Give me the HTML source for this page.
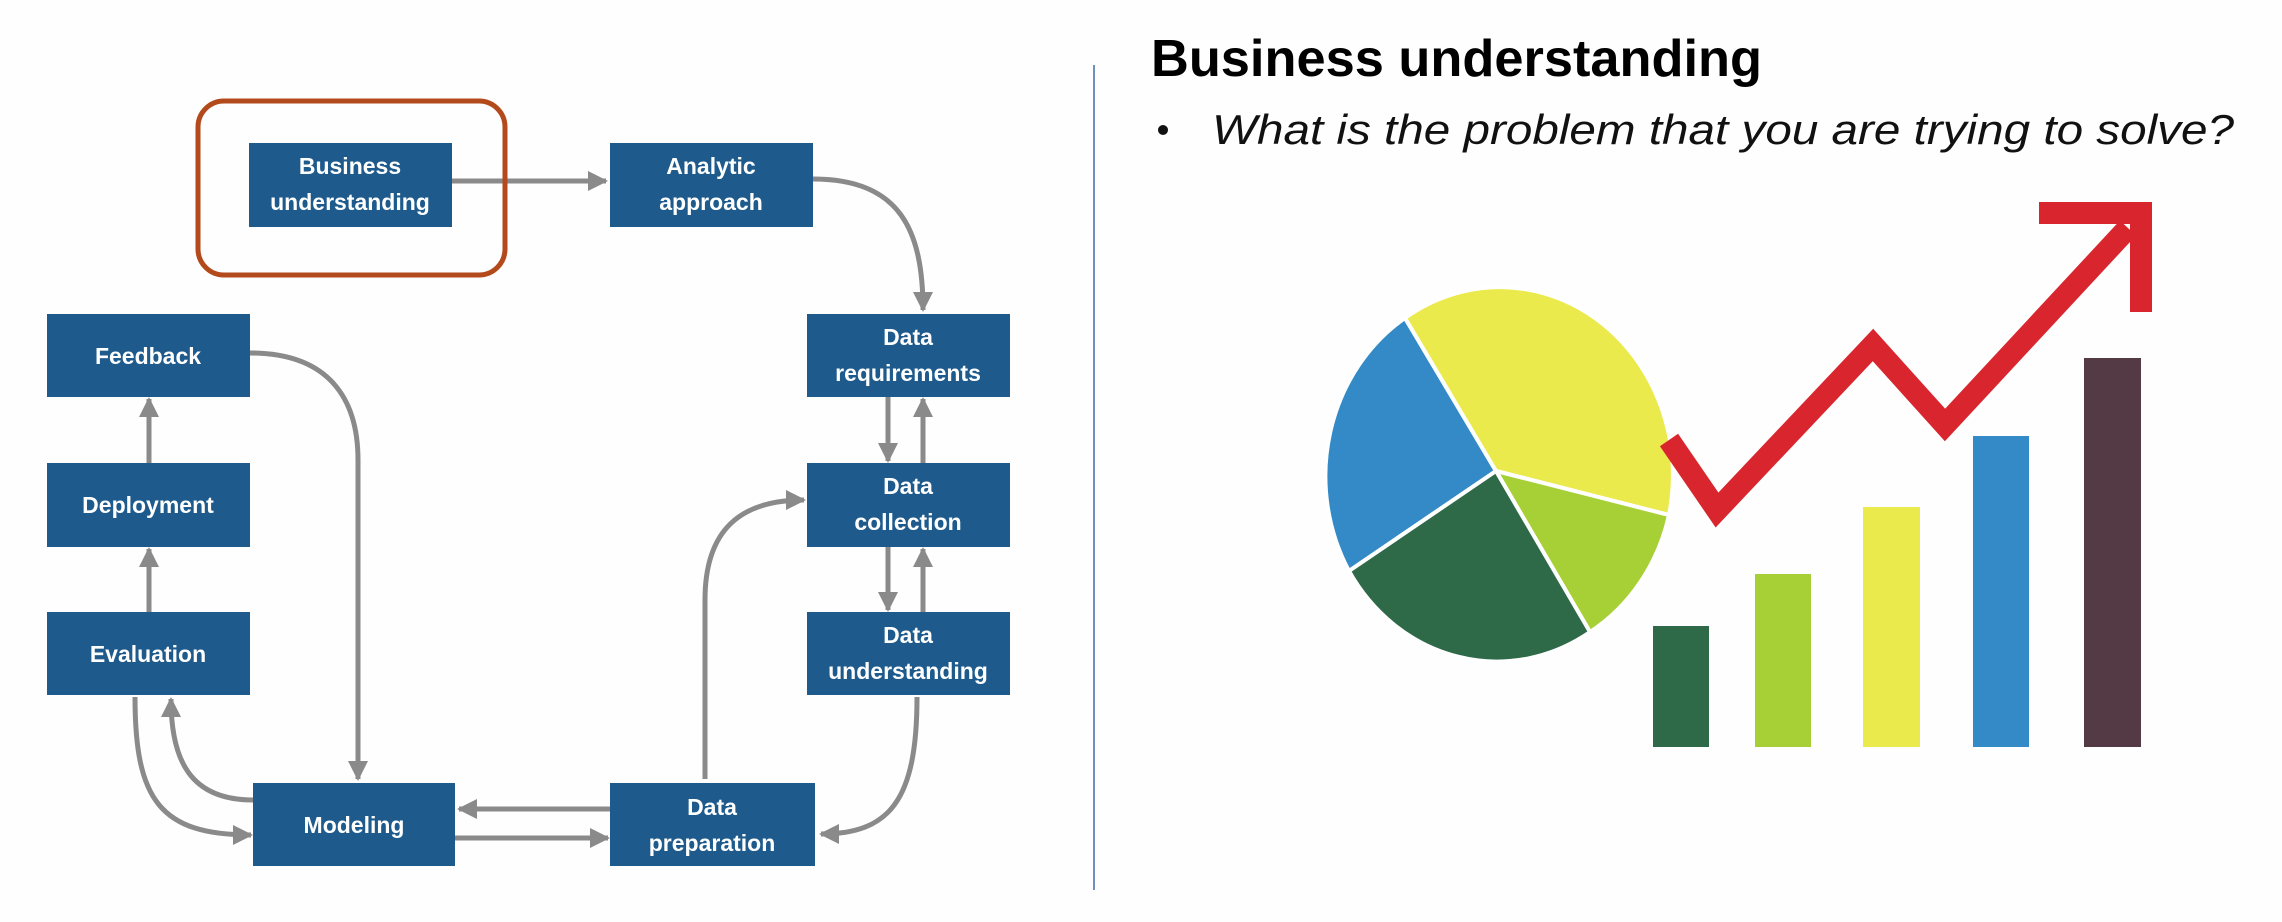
<!DOCTYPE html>
<html><head><meta charset="utf-8"><style>
html,body{margin:0;padding:0;background:#fff;}
svg{display:block}
</style></head><body>
<svg width="2282" height="922" viewBox="0 0 2282 922" xmlns="http://www.w3.org/2000/svg">
<defs>
<marker id="ah" viewBox="0 0 10 10" refX="9" refY="5" markerWidth="4" markerHeight="4" orient="auto" markerUnits="strokeWidth">
<path d="M0,0 L10,5 L0,10 z" fill="#8a8a8a"/>
</marker>
</defs>
<rect width="2282" height="922" fill="#fefefe"/>
<!-- connectors -->
<g fill="none" stroke="#8a8a8a" stroke-width="5" marker-end="url(#ah)">
<path d="M452,181 L606,181"/>
<path d="M813,179 C900,179 923,230 923,310"/>
<path d="M888,397 L888,461"/>
<path d="M923,463 L923,399"/>
<path d="M888,547 L888,610"/>
<path d="M923,612 L923,549"/>
<path d="M917,697 C917,800 890,834 821,834"/>
<path d="M705,779 L705,600 C705,530 740,500 804,500"/>
<path d="M610,809 L459,809"/>
<path d="M455,838 L608,838"/>
<path d="M250,353 C330,353 358,400 358,460 L358,779"/>
<path d="M135,697 C135,800 160,835 251,835"/>
<path d="M253,800 C190,800 171,760 171,699"/>
<path d="M149,612 L149,549"/>
<path d="M149,463 L149,399"/>
</g>
<!-- orange highlight -->
<rect x="198" y="101" width="307" height="174" rx="26" fill="none" stroke="#b34a1c" stroke-width="5"/>
<!-- boxes -->
<g fill="#1e5b8c">
<rect x="249" y="143" width="203" height="84"/>
<rect x="610" y="143" width="203" height="84"/>
<rect x="47" y="314" width="203" height="83"/>
<rect x="47" y="463" width="203" height="84"/>
<rect x="47" y="612" width="203" height="83"/>
<rect x="253" y="783" width="202" height="83"/>
<rect x="610" y="783" width="205" height="83"/>
<rect x="807" y="314" width="203" height="83"/>
<rect x="807" y="463" width="203" height="84"/>
<rect x="807" y="612" width="203" height="83"/>
</g>
<g fill="#fff" font-family="Liberation Sans, sans-serif" font-weight="bold" font-size="23" text-anchor="middle">
<text x="350" y="174">Business</text><text x="350" y="210">understanding</text>
<text x="711" y="174">Analytic</text><text x="711" y="210">approach</text>
<text x="148" y="364">Feedback</text>
<text x="148" y="513">Deployment</text>
<text x="148" y="662">Evaluation</text>
<text x="354" y="833">Modeling</text>
<text x="712" y="815">Data</text><text x="712" y="851">preparation</text>
<text x="908" y="345">Data</text><text x="908" y="381">requirements</text>
<text x="908" y="494">Data</text><text x="908" y="530">collection</text>
<text x="908" y="643">Data</text><text x="908" y="679">understanding</text>
</g>
<!-- divider -->
<line x1="1094" y1="65" x2="1094" y2="890" stroke="#6f8fc0" stroke-width="2"/>
<!-- right text -->
<text x="1151" y="76" font-family="Liberation Sans, sans-serif" font-weight="bold" font-size="52" fill="#000" textLength="611" lengthAdjust="spacingAndGlyphs">Business understanding</text>
<circle cx="1163" cy="130" r="5" fill="#111"/>
<text x="1212" y="144" font-family="Liberation Sans, sans-serif" font-style="italic" font-size="42" fill="#111" textLength="1022" lengthAdjust="spacingAndGlyphs">What is the problem that you are trying to solve?</text>
<!-- pie -->
<g stroke="#fff" stroke-width="4" stroke-linejoin="round">
<path d="M1496,471 L1349,571 A173,188 0 0 1 1405,318 Z" fill="#338ac6"/>
<path d="M1496,471 L1405,318 A173,188 0 0 1 1669,515 Z" fill="#ebea4c"/>
<path d="M1496,471 L1669,515 A173,188 0 0 1 1590,632 Z" fill="#a6d035"/>
<path d="M1496,471 L1590,632 A173,188 0 0 1 1349,571 Z" fill="#2f6a48"/>
</g>
<!-- bars -->
<rect x="1653" y="626" width="56" height="121" fill="#2f6a48"/>
<rect x="1755" y="574" width="56" height="173" fill="#a6d035"/>
<rect x="1863" y="507" width="57" height="240" fill="#ebea4c"/>
<rect x="1973" y="436" width="56" height="311" fill="#338ac6"/>
<rect x="2084" y="358" width="57" height="389" fill="#533a45"/>
<!-- red arrow -->
<polyline points="1669,440 1717,510 1873,345 1945,425 2128,228" fill="none" stroke="#d9262e" stroke-width="22" stroke-linejoin="miter"/>
<path d="M2039,213 L2141,213 L2141,312" fill="none" stroke="#d9262e" stroke-width="22" stroke-linejoin="miter" stroke-linecap="butt"/>
</svg>
</body></html>
